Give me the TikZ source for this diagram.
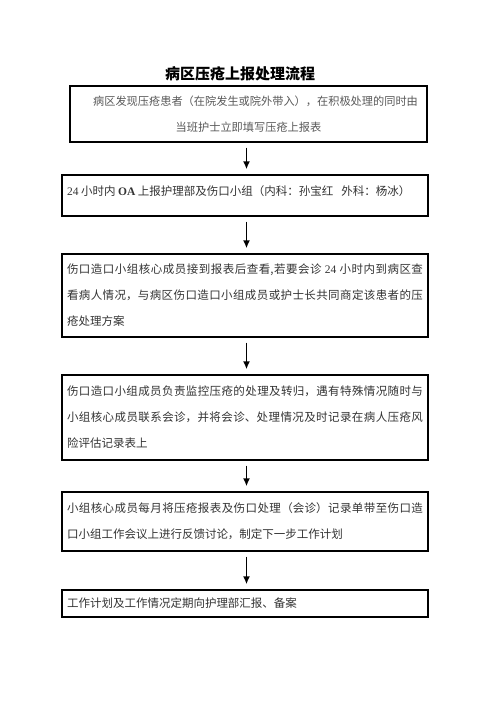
\documentclass[tikz,border=0pt]{standalone}
\usepackage{fontspec}
\setmainfont{Noto Sans CJK SC}
\newfontfamily\lat{Liberation Serif}
\XeTeXlinebreaklocale "zh"
\XeTeXlinebreakskip=0pt plus 1pt
\usetikzlibrary{arrows.meta}
\begin{document}
\begin{tikzpicture}[x=1pt,y=-1pt,
  box/.style={draw=black, line width=1.3pt, inner xsep=5pt, inner ysep=0pt,
    minimum width=366pt, text width=356pt, align=justify,
    font=\fontsize{11.5pt}{26pt}\selectfont, text=black!80},
  arr/.style={line width=1.7pt, -{Latex[length=8pt,width=7pt]},
    shorten <=5pt, shorten >=5pt}]
\useasboundingbox[fill=white] (0,0) rectangle (496,702);
\node[font=\fontsize{15pt}{18pt}\selectfont\bfseries] (title) at (240,74) {病区压疮上报处理流程};
\node[box, minimum width=357pt, text width=347pt, minimum height=56pt, align=center,
  font=\fontsize{11.2pt}{26pt}\selectfont, text=black!65] (b1) at (248.5,114)
  {\mbox{\hspace*{14pt}病区发现压疮患者（在院发生或院外带入），在积极处理的同时由}\\\mbox{当班护士立即填写压疮上报表}};
\node[box, minimum height=41pt] (b2) at (245,195.5)
  {\raisebox{3pt}[0.8em][0.2em]{{\lat 24} 小时内 {\lat\bfseries OA} 上报护理部及伤口小组（内科：孙宝红\hspace{8pt}外科：杨冰）}};
\node[box, minimum height=83pt] (b3) at (245,295.5)
  {伤口造口小组核心成员接到报表后查看,若要会诊 {\lat 24} 小时内到病区查\linebreak 看病人情况，与病区伤口造口小组成员或护士长共同商定该患者的压\linebreak 疮处理方案};
\node[box, minimum height=85pt] (b4) at (245,417.5)
  {伤口造口小组成员负责监控压疮的处理及转归，遇有特殊情况随时与\linebreak 小组核心成员联系会诊，并将会诊、处理情况及时记录在病人压疮风\linebreak 险评估记录表上};
\node[box, minimum height=59pt] (b5) at (245,521.5)
  {小组核心成员每月将压疮报表及伤口处理（会诊）记录单带至伤口造\linebreak 口小组工作会议上进行反馈讨论，制定下一步工作计划};
\node[box, minimum height=27pt] (b6) at (245,603.5)
  {工作计划及工作情况定期向护理部汇报、备案};
\draw[arr] (b1.south -| b2.north) ++(1.5,0) coordinate (a1s) -- (a1s |- b2.north);
\draw[arr] ([xshift=1.5pt]b2.south) -- ([xshift=1.5pt]b3.north);
\draw[arr] ([xshift=1.5pt]b3.south) -- ([xshift=1.5pt]b4.north);
\draw[arr] ([xshift=1.5pt]b4.south) -- ([xshift=1.5pt]b5.north);
\draw[arr] ([xshift=1.5pt]b5.south) -- ([xshift=1.5pt]b6.north);
\end{tikzpicture}
\end{document}
